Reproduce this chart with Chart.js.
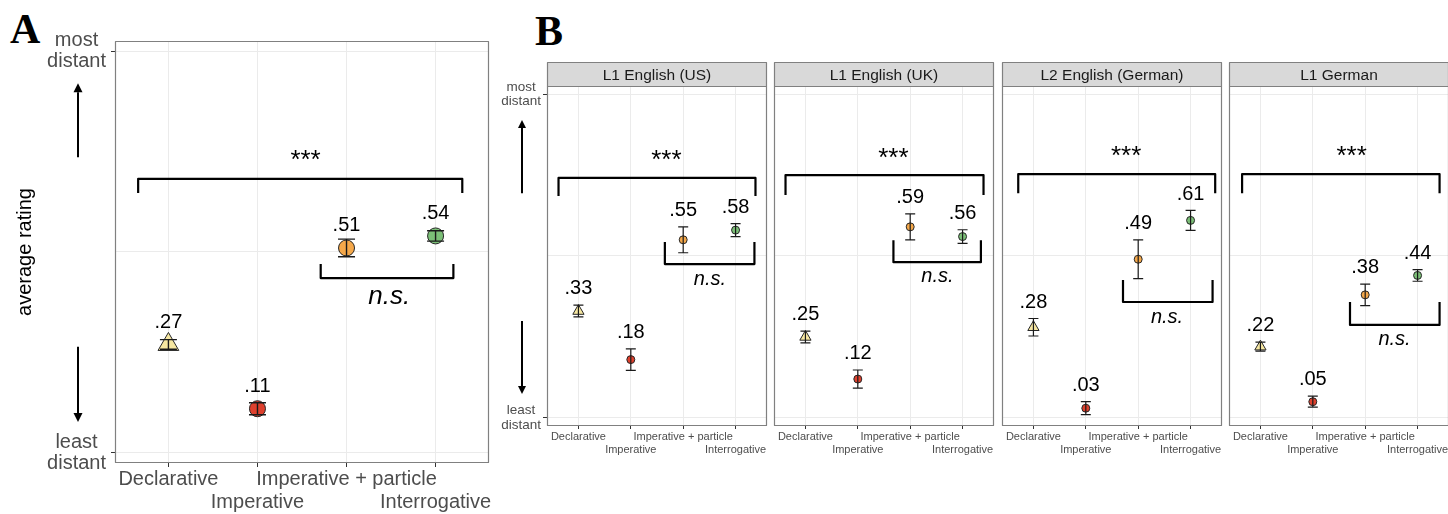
<!DOCTYPE html>
<html>
<head>
<meta charset="utf-8">
<script src="https://cdn.jsdelivr.net/npm/chart.js@4.4.1/dist/chart.umd.min.js"></script>
<style>
  html, body { margin: 0; padding: 0; background: #fff; overflow: hidden; width: 1448px; height: 514px; position: relative; }
  canvas { position: absolute; top: 0; }
  .tag { position: absolute; font-family: "Liberation Serif", "DejaVu Serif", serif; font-weight: bold;
         font-size: 42px; line-height: 1; color: #000; }
</style>
</head>
<body>
<div class="tag" style="left:10px; top:8px;">A</div>
<div class="tag" style="left:535px; top:10px;">B</div>
<canvas id="pooled" width="530" height="514" style="left:0px"></canvas>
<canvas id="g0"></canvas>
<canvas id="g1"></canvas>
<canvas id="g2"></canvas>
<canvas id="g3"></canvas>
<script>
// ---- data ----
const conditions = ['Declarative', 'Imperative', 'Imperative + particle', 'Interrogative'];

// pooled means and standard errors
const pooledMean = [0.27, 0.11, 0.51, 0.54];
const pooledSE   = [0.012, 0.015, 0.022, 0.013];

// per-group means and standard errors
const groupNames = ['L1 English (US)', 'L1 English (UK)', 'L2 English (German)', 'L1 German'];
const usMean = [0.33, 0.18, 0.55, 0.58];
const usSE   = [0.018, 0.033, 0.040, 0.020];
const ukMean = [0.25, 0.12, 0.59, 0.56];
const ukSE   = [0.018, 0.028, 0.040, 0.021];
const l2Mean = [0.28, 0.03, 0.49, 0.61];
const l2SE   = [0.027, 0.020, 0.060, 0.031];
const deMean = [0.22, 0.05, 0.38, 0.44];
const deSE   = [0.014, 0.017, 0.033, 0.018];

// y-axis end labels (value 0 and value 1)
const yEndLabels = [['least', 'distant'], ['most', 'distant']];
const sigText = '***';
const nsText = 'n.s.';

// ---- styling ----
const FONT = "'Liberation Sans', Arial, Helvetica, sans-serif";
const shapes = ['triangle', 'circle', 'circle', 'circle'];
const fills  = ['#f6e7a1', '#de402d', '#f5a84a', '#7bbf77'];
Chart.defaults.font.family = FONT;

const fmt = v => v.toFixed(2).replace(/^0/, '');

function overlay(cfg) {
  return {
    id: 'overlay',
    afterDatasetsDraw(chart) {
      const { ctx, chartArea: a, scales: { x, y } } = chart;
      ctx.save();

      // error bars on top of the markers
      ctx.strokeStyle = '#1a1a1a';
      ctx.lineWidth = cfg.errWidth;
      cfg.mean.forEach((m, i) => {
        const px = x.getPixelForValue(i + 1);
        const t = y.getPixelForValue(m + cfg.se[i]);
        const b = y.getPixelForValue(m - cfg.se[i]);
        const h = cfg.capW / 2;
        ctx.beginPath();
        ctx.moveTo(px, t); ctx.lineTo(px, b);
        ctx.moveTo(px - h, t); ctx.lineTo(px + h, t);
        ctx.moveTo(px - h, b); ctx.lineTo(px + h, b);
        ctx.stroke();
      });

      // mean value labels
      ctx.fillStyle = '#000';
      ctx.textAlign = 'center';
      ctx.textBaseline = 'alphabetic';
      ctx.font = cfg.valueSize + 'px ' + FONT;
      cfg.mean.forEach((m, i) => {
        const px = x.getPixelForValue(i + 1);
        const ref = cfg.labelFromErr ? y.getPixelForValue(m + cfg.se[i]) : y.getPixelForValue(m);
        const cy = ref - cfg.labelGap;
        ctx.fillText(fmt(m), px, cy + 0.36 * cfg.valueSize);
      });

      // significance brackets
      ctx.strokeStyle = '#000';
      ctx.lineWidth = cfg.bracketWidth;
      ctx.lineJoin = 'round';
      [cfg.sig, cfg.ns].forEach(br => {
        const xl = x.getPixelForValue(br.x0), xr = x.getPixelForValue(br.x1);
        const yb = y.getPixelForValue(br.yBar), ye = y.getPixelForValue(br.yEnd);
        ctx.beginPath();
        ctx.moveTo(xl, ye); ctx.lineTo(xl, yb); ctx.lineTo(xr, yb); ctx.lineTo(xr, ye);
        ctx.stroke();
      });
      ctx.font = cfg.sigSize + 'px ' + FONT;
      ctx.fillText(sigText, x.getPixelForValue(cfg.sig.tx), y.getPixelForValue(cfg.sig.ty) + 0.48 * cfg.sigSize);
      ctx.font = 'italic ' + cfg.nsSize + 'px ' + FONT;
      ctx.fillText(nsText, x.getPixelForValue(cfg.ns.tx), y.getPixelForValue(cfg.ns.ty) + 0.26 * cfg.nsSize);

      // panel border
      ctx.strokeStyle = '#808080';
      ctx.lineWidth = 1.2;
      ctx.strokeRect(a.left + 0.5, a.top + 0.5, a.width - 1, a.height - 1);

      // facet strip
      if (cfg.strip) {
        const sh = 24;
        ctx.fillStyle = '#d9d9d9';
        ctx.fillRect(a.left + 0.5, a.top - sh + 0.5, a.width - 1, sh);
        ctx.strokeRect(a.left + 0.5, a.top - sh + 0.5, a.width - 1, sh);
        ctx.fillStyle = '#1a1a1a';
        ctx.font = '15.5px ' + FONT;
        ctx.fillText(cfg.strip, (a.left + a.right) / 2, a.top - sh / 2 + 0.36 * 15.5);
      }

      // direction arrows beside the y axis
      if (cfg.arrows) {
        const ar = cfg.arrows;
        const ax = a.left + ar.dx;
        ctx.strokeStyle = '#000';
        ctx.fillStyle = '#000';
        ctx.lineWidth = 2;
        [[ar.up0, ar.up1], [ar.dn0, ar.dn1]].forEach(([from, to]) => {
          const y0 = y.getPixelForValue(from), y1 = y.getPixelForValue(to);
          const dir = Math.sign(y1 - y0);
          ctx.beginPath();
          ctx.moveTo(ax, y0); ctx.lineTo(ax, y1 - dir * ar.head);
          ctx.stroke();
          ctx.beginPath();
          ctx.moveTo(ax, y1);
          ctx.lineTo(ax - ar.half, y1 - dir * ar.head);
          ctx.lineTo(ax + ar.half, y1 - dir * ar.head);
          ctx.closePath();
          ctx.fill();
        });
      }
      ctx.restore();
    }
  };
}

function build(id, cfg) {
  const pts = cfg.mean.map((m, i) => ({ x: i + 1, y: m }));
  const radii = shapes.map(s => s === 'triangle' ? cfg.triR : cfg.circR);
  return new Chart(document.getElementById(id), {
    type: 'scatter',
    data: {
      datasets: [{
        data: pts,
        pointStyle: shapes,
        pointRadius: radii,
        pointHoverRadius: radii,
        pointBackgroundColor: fills,
        pointBorderColor: '#262626',
        pointBorderWidth: 1
      }]
    },
    options: {
      responsive: false,
      animation: false,
      devicePixelRatio: 1,
      events: [],
      layout: { padding: cfg.padding },
      plugins: { legend: { display: false }, tooltip: { enabled: false } },
      scales: {
        x: {
          type: 'linear', min: 0.4, max: 4.6,
          afterBuildTicks: s => { s.ticks = conditions.map((_, i) => ({ value: i + 1 })); },
          afterFit: s => { s.height = cfg.xHeight; },
          border: { display: false },
          grid: { color: '#ebebeb', lineWidth: 1, tickLength: cfg.xTick, tickColor: '#333', tickWidth: 1 },
          ticks: {
            autoSkip: false, maxRotation: 0, minRotation: 0,
            padding: 1, color: '#4d4d4d',
            font: { size: cfg.xFont, lineHeight: cfg.xLine },
            callback: v => {
              const i = Math.round(v) - 1;
              return i % 2 === 0 ? [conditions[i], ''] : ['', conditions[i]];
            }
          }
        },
        y: {
          type: 'linear', min: -0.025, max: 1.025,
          afterBuildTicks: s => { s.ticks = [0, 0.5, 1].map(v => ({ value: v })); },
          afterFit: s => { s.width = cfg.yWidth; },
          border: { display: false },
          title: cfg.yTitle ? {
            display: true, text: cfg.yTitle, color: '#000',
            font: { size: 20 }, padding: { top: 13, bottom: 0 }
          } : { display: false },
          grid: {
            color: '#ebebeb', lineWidth: 1,
            drawTicks: cfg.yTicks,
            tickLength: 4,
            tickColor: c => (c.tick && c.tick.value === 0.5) ? 'rgba(0,0,0,0)' : '#333'
          },
          ticks: {
            display: cfg.yTicks,
            crossAlign: 'center',
            padding: cfg.yPad,
            color: '#4d4d4d',
            font: { size: cfg.yFont, lineHeight: 1.07 },
            callback: v => v === 1 ? yEndLabels[1] : (v === 0 ? yEndLabels[0] : '')
          }
        }
      }
    },
    plugins: [overlay(cfg)]
  });
}

// panel A: all participants pooled
build('pooled', {
  mean: pooledMean, se: pooledSE,
  padding: { left: 0, top: 41, right: 41, bottom: 0 },
  xHeight: 51, yWidth: 115, xTick: 4, xFont: 20, xLine: 1.15,
  yTicks: true, yFont: 20, yPad: 5, yTitle: 'average rating',
  triR: 12, circR: 8, capW: 17, errWidth: 1.4,
  valueSize: 20, labelFromErr: false, labelGap: 24,
  bracketWidth: 2.2, sigSize: 26, nsSize: 26,
  sig: { x0: 0.66, x1: 4.30, yBar: 0.682, yEnd: 0.647, tx: 2.54, ty: 0.741 },
  ns:  { x0: 2.71, x1: 4.20, yBar: 0.435, yEnd: 0.470, tx: 3.48, ty: 0.388 },
  arrows: { dx: -37, up0: 0.736, up1: 0.920, dn0: 0.264, dn1: 0.077, head: 9, half: 4.5 }
});

// panel B: one facet per participant group
const facetMeans = [usMean, ukMean, l2Mean, deMean];
const facetSE = [usSE, ukSE, l2SE, deSE];
const facetBrackets = [
  { sig: { x0: 0.62, x1: 4.38, yBar: 0.741, yEnd: 0.685, tx: 2.68, ty: 0.809 },
    ns:  { x0: 2.65, x1: 4.36, yBar: 0.475, yEnd: 0.543, tx: 3.51, ty: 0.426 } },
  { sig: { x0: 0.62, x1: 4.40, yBar: 0.750, yEnd: 0.688, tx: 2.68, ty: 0.818 },
    ns:  { x0: 2.68, x1: 4.35, yBar: 0.481, yEnd: 0.549, tx: 3.52, ty: 0.435 } },
  { sig: { x0: 0.71, x1: 4.47, yBar: 0.753, yEnd: 0.694, tx: 2.77, ty: 0.824 },
    ns:  { x0: 2.71, x1: 4.42, yBar: 0.358, yEnd: 0.426, tx: 3.55, ty: 0.309 } },
  { sig: { x0: 0.65, x1: 4.42, yBar: 0.753, yEnd: 0.694, tx: 2.74, ty: 0.824 },
    ns:  { x0: 2.71, x1: 4.42, yBar: 0.287, yEnd: 0.358, tx: 3.56, ty: 0.241 } }
];

// facet plot areas are 220 px wide, about 227.3 px apart, starting at x = 547
const FACET_W = 220, FACET_STEP = 227.33, FACET_X0 = 547, SIDE = 30;

groupNames.forEach((name, g) => {
  const first = g === 0;
  const padL = first ? 67 : SIDE;
  const cv = document.getElementById('g' + g);
  cv.width = padL + FACET_W + SIDE;
  cv.height = 514;
  cv.style.left = (Math.round(FACET_X0 + g * FACET_STEP) - padL) + 'px';
  build('g' + g, {
    mean: facetMeans[g], se: facetSE[g], strip: name,
    padding: { left: first ? 0 : SIDE, top: 86, right: SIDE, bottom: 0 },
    xHeight: 88, yWidth: first ? 67 : 0, xTick: 3, xFont: 11, xLine: 1.18,
    yTicks: first, yFont: 13.5, yPad: 2, yTitle: null,
    triR: 6.5, circR: 4, capW: 10, errWidth: 1.2,
    valueSize: 20, labelFromErr: true, labelGap: 18,
    bracketWidth: 2.2, sigSize: 26, nsSize: 20,
    sig: facetBrackets[g].sig, ns: facetBrackets[g].ns,
    arrows: first ? { dx: -25, up0: 0.694, up1: 0.920, dn0: 0.299, dn1: 0.074, head: 8, half: 4 } : null
  });
});
</script>
</body>
</html>
